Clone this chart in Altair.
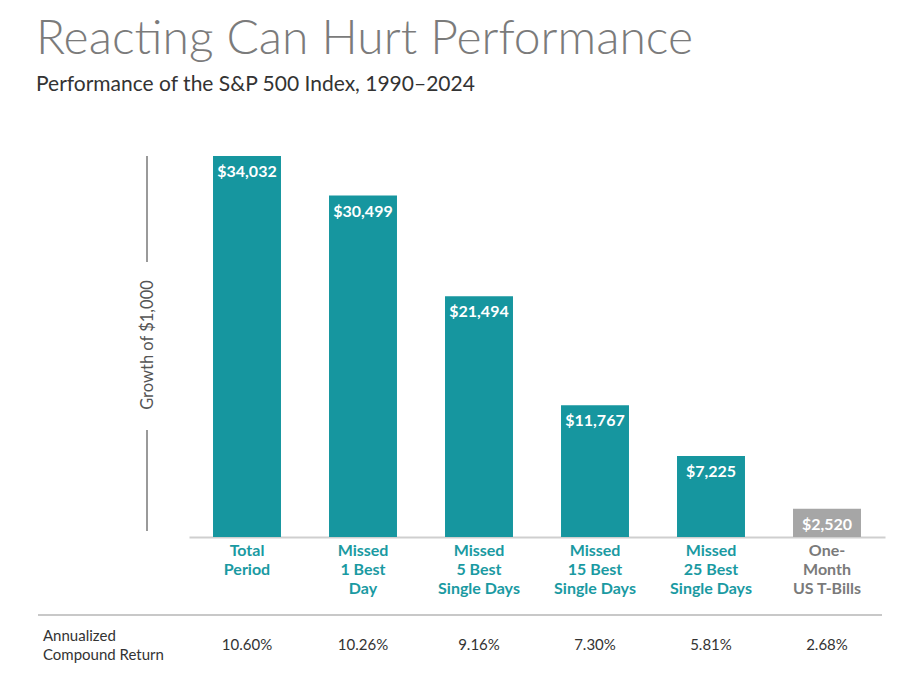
import altair as alt
import pandas as pd

categories = ["Total Period", "Missed 1 Best Day", "Missed 5 Best Single Days",
              "Missed 15 Best Single Days", "Missed 25 Best Single Days", "One-Month US T-Bills"]
cat_labels = ["Total\nPeriod", "Missed\n1 Best\nDay", "Missed\n5 Best\nSingle Days",
              "Missed\n15 Best\nSingle Days", "Missed\n25 Best\nSingle Days", "One-\nMonth\nUS T-Bills"]
values = [34032, 30499, 21494, 11767, 7225, 2520]
value_labels = ["$34,032", "$30,499", "$21,494", "$11,767", "$7,225", "$2,520"]
returns = ["10.60%", "10.26%", "9.16%", "7.30%", "5.81%", "2.68%"]
bar_colors = ["#16969f", "#16969f", "#16969f", "#16969f", "#16969f", "#a6a6a6"]
label_colors = ["#1a9aa2", "#1a9aa2", "#1a9aa2", "#1a9aa2", "#1a9aa2", "#7a7a7a"]

title_text = "Reacting Can Hurt Performance"
subtitle_text = "Performance of the S&P 500 Index, 1990–2024"
ytitle_text = "Growth of $1,000"
row_title = "Annualized\nCompound Return"

FONT = "Lato"

df = pd.DataFrame({
    "cat": categories,
    "lab": cat_labels,
    "val": values,
    "vlab": value_labels,
    "ret": returns,
    "bc": bar_colors,
    "lc": label_colors,
})

x = alt.X("cat:N", sort=categories,
          scale=alt.Scale(paddingInner=0.414, paddingOuter=0.207),
          axis=alt.Axis(title=None, labels=False, ticks=False, domain=True,
                        domainColor="#cfcfcf", domainWidth=2, grid=False))
y = alt.Y("val:Q", scale=alt.Scale(domain=[0, 34032], nice=False),
          axis=None)

base = alt.Chart(df)

bars = base.mark_bar(stroke=None).encode(
    x=x, y=y, color=alt.Color("bc:N", scale=None))

bar_text = base.mark_text(font=FONT, fontWeight="bold", fontSize=16,
                          color="white", baseline="middle", dy=16).encode(
    x=x, y=y, text="vlab:N")

cat_text = base.mark_text(font=FONT, fontWeight="bold", fontSize=16,
                          baseline="top", dy=6, lineBreak="\n", lineHeight=19,
                          align="center").encode(
    x=x, y=alt.datum(0), text="lab:N", color=alt.Color("lc:N", scale=None))

ret_text = base.mark_text(font=FONT, fontSize=15, color="#333333",
                          baseline="middle", dy=108).encode(
    x=x, y=alt.datum(0), text="ret:N")

one = pd.DataFrame({"t": [title_text], "s": [subtitle_text], "yt": [ytitle_text], "rt": [row_title]})
ob = alt.Chart(one)

title = ob.mark_text(font=FONT, fontWeight=300, fontSize=48, color="#7b7b7b",
                     align="left", baseline="alphabetic").encode(
    x=alt.value(-153), y=alt.value(-102), text="t:N")
subtitle = ob.mark_text(font=FONT, fontSize=21, color="#333333",
                        align="left", baseline="alphabetic").encode(
    x=alt.value(-153), y=alt.value(-65), text="s:N")
ytitle = ob.mark_text(font=FONT, fontSize=16.5, color="#555555", angle=270,
                      align="center", baseline="middle").encode(
    x=alt.value(-41), y=alt.value(189), text="yt:N")
row_label = ob.mark_text(font=FONT, fontSize=15, color="#333333", align="left",
                         baseline="middle", lineBreak="\n", lineHeight=19).encode(
    x=alt.value(-146), y=alt.value(480), text="rt:N")

line_top = ob.mark_rule(color="#9a9a9a", strokeWidth=2).encode(
    x=alt.value(-42), y=alt.value(0), y2=alt.value(106))
line_bot = ob.mark_rule(color="#9a9a9a", strokeWidth=2).encode(
    x=alt.value(-42), y=alt.value(274), y2=alt.value(375))
sep = ob.mark_rule(color="#c8c8c8", strokeWidth=2).encode(
    x=alt.value(-151), x2=alt.value(693), y=alt.value(459))

chart = alt.layer(
    bars, bar_text, cat_text, ret_text,
    title, subtitle, ytitle, row_label, line_top, line_bot, sep
).properties(
    width=696, height=381,
    autosize=alt.AutoSizeParams(type="none"),
    padding={"left": 181, "top": 148, "right": 7, "bottom": 153},
    background="white",
).configure_view(stroke=None)

chart.save("out.html", embed_options={"renderer": "svg", "actions": False})
